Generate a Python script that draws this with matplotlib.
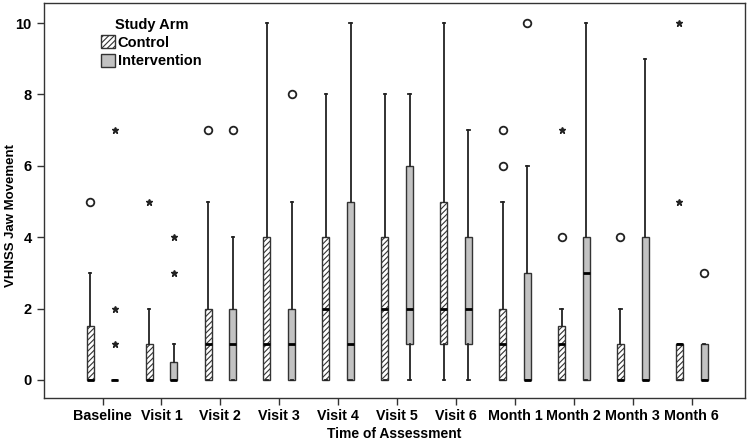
import matplotlib.pyplot as plt
from matplotlib.patches import Patch

plt.rcParams['font.family'] = ['Liberation Sans Narrow', 'Liberation Sans', 'DejaVu Sans']
plt.rcParams['hatch.linewidth'] = 0.8

times = ['Baseline', 'Visit 1', 'Visit 2', 'Visit 3', 'Visit 4', 'Visit 5',
         'Visit 6', 'Month 1', 'Month 2', 'Month 3', 'Month 6']

# control arm: q1, median, q3, lower whisker, upper whisker
ctl_q1 = [0, 0, 0, 0, 0, 0, 1, 0, 0, 0, 0]
ctl_med = [0, 0, 1, 1, 2, 2, 2, 1, 1, 0, 1]
ctl_q3 = [1.5, 1, 2, 4, 4, 4, 5, 2, 1.5, 1, 1]
ctl_lo = [0, 0, 0, 0, 0, 0, 0, 0, 0, 0, 0]
ctl_hi = [3, 2, 5, 10, 8, 8, 10, 5, 2, 2, 1]
ctl_circles = [[5], [], [7], [], [], [], [], [6, 7], [4], [4], []]
ctl_stars = [[], [5], [], [], [], [], [], [], [7], [], [5, 10]]

# intervention arm
int_q1 = [0, 0, 0, 0, 0, 1, 1, 0, 0, 0, 0]
int_med = [0, 0, 1, 1, 1, 2, 2, 0, 3, 0, 0]
int_q3 = [0, 0.5, 2, 2, 5, 6, 4, 3, 4, 4, 1]
int_lo = [0, 0, 0, 0, 0, 0, 0, 0, 0, 0, 0]
int_hi = [0, 1, 4, 5, 10, 8, 7, 6, 10, 9, 1]
int_circles = [[], [], [7], [8], [], [], [], [10], [], [], [3]]
int_stars = [[1, 2, 7], [3, 4], [], [], [], [], [], [], [], [], []]

fig = plt.figure(figsize=(7.53, 4.44), dpi=100)
ax = fig.add_axes([0.058, 0.104, 0.931, 0.889])

off = 0.21
wid = 0.12


def draw_arm(q1, med, q3, lo, hi, circles, stars, shift, face, hatch):
    stats = []
    for i in range(len(times)):
        stats.append(dict(q1=q1[i], med=med[i], q3=q3[i], whislo=lo[i],
                          whishi=hi[i], fliers=[]))
    pos = [i + shift for i in range(len(times))]
    bp = ax.bxp(stats, positions=pos, widths=wid, patch_artist=True,
                showfliers=False, manage_ticks=False,
                boxprops=dict(facecolor=face, edgecolor='#333333', linewidth=1.0, hatch=hatch),
                medianprops=dict(color='black', linewidth=2.0),
                whiskerprops=dict(color='#222222', linewidth=1.3),
                capprops=dict(color='#222222', linewidth=1.3),
                capwidths=0.04)
    for i in range(len(times)):
        for v in circles[i]:
            ax.plot(i + shift, v, 'o', mfc='white', mec='#222222', ms=5.5, mew=1.3)
        for v in stars[i]:
            ax.plot(i + shift, v, '*', color='#222222', ms=5)
    return bp


draw_arm(ctl_q1, ctl_med, ctl_q3, ctl_lo, ctl_hi, ctl_circles, ctl_stars,
         -off, 'white', '//////')
draw_arm(int_q1, int_med, int_q3, int_lo, int_hi, int_circles, int_stars,
         off, '#c2c2c2', None)

ax.set_xlim(-1.0, 10.9)
ax.set_ylim(-0.5, 10.56)
ax.set_xticks(range(len(times)))
ax.set_xticklabels(times, fontsize=10.3, fontweight='bold')
ax.set_yticks([0, 2, 4, 6, 8, 10])
ax.set_yticklabels(['0', '2', '4', '6', '8', '10'], fontsize=10.5, fontweight='bold')
ax.tick_params(axis='both', length=5, width=1, color='#333333')
ax.tick_params(axis='x', pad=3)
for s in ax.spines.values():
    s.set_color('#333333')
    s.set_linewidth(1.0)

ax.set_xlabel('Time of Assessment', fontsize=10, fontweight='bold', labelpad=3)
fig.text(0.015, 0.515, 'VHNSS Jaw Movement', rotation=90, ha='center', va='center',
         fontsize=9.5, fontweight='bold')

handles = [Patch(facecolor='white', edgecolor='#333333', hatch='//////', label='Control'),
           Patch(facecolor='#c2c2c2', edgecolor='#333333', label='Intervention')]
leg = ax.legend(handles=handles, title='Study Arm', loc='upper left',
                bbox_to_anchor=(0.07, 0.985), frameon=False, fontsize=10.5,
                handlelength=0.9, handleheight=1.0, handletextpad=0.2,
                labelspacing=0.25, borderaxespad=0.2)
leg.get_title().set_fontweight('bold')
leg.get_title().set_fontsize(10.5)
for t in leg.get_texts():
    t.set_fontweight('bold')

fig.savefig('out.png', dpi=100)
